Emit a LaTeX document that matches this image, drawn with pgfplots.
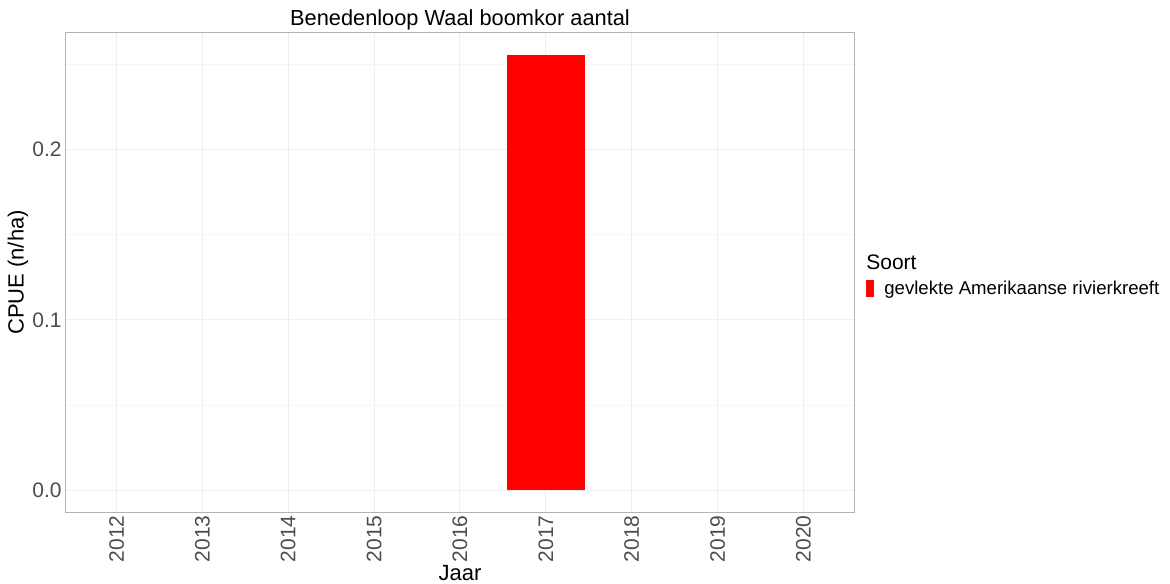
\documentclass[border=0pt]{standalone}
\usepackage{pgfplots}
\pgfplotsset{compat=1.18}
\usepackage{fontspec}
\setmainfont{Liberation Sans}
\definecolor{gridc}{HTML}{EFEFEF}
\definecolor{gridm}{HTML}{F6F6F6}
\definecolor{borderc}{HTML}{B3B3B3}
\definecolor{tickc}{HTML}{4D4D4D}
\begin{document}
\begin{tikzpicture}
\path[use as bounding box] (0,0) rectangle (585pt,291.5pt);
\begin{axis}[
  at={(32.5pt,35.5pt)}, anchor=south west,
  scale only axis, width=395pt, height=239.5pt,
  xmin=-0.6, xmax=8.6,
  ymin=-0.0128, ymax=0.2683,
  xtick={0,1,2,3,4,5,6,7,8},
  xticklabels={2012,2013,2014,2015,2016,2017,2018,2019,2020},
  ytick={0,0.1,0.2},
  yticklabels={0.0,0.1,0.2},
  minor ytick={0.05,0.15,0.25},
  major tick length=0pt, minor tick length=0pt,
  grid=both,
  major grid style={draw=gridc, line width=0.5pt},
  minor grid style={draw=gridm, line width=0.3pt},
  axis line style={draw=borderc, line width=0.5pt},
  /pgf/number format/assume math mode=true,
  xticklabel style={rotate=90, anchor=east, font=\fontsize{10.5}{12}\selectfont, text=tickc, inner sep=1.5pt},
  yticklabel style={anchor=east, font=\fontsize{10.5}{12}\selectfont, text=tickc, inner sep=1.5pt},
  title={Benedenloop Waal boomkor aantal},
  title style={at={(axis description cs:0.5,1)}, anchor=south, yshift=-6.5pt, font=\fontsize{10.9}{13}\selectfont, inner sep=2pt},
  xlabel={Jaar},
  xlabel style={at={(axis description cs:0.5,-0.110)}, anchor=north, font=\fontsize{11}{13}\selectfont, inner sep=0pt},
  ylabel={CPUE (n/ha)},
  ylabel style={at={(axis description cs:-0.0595,0.5)}, anchor=center, font=\fontsize{11}{13}\selectfont, inner sep=0pt},
  legend style={draw=none, fill=none, at={(axis description cs:1.0139,0.4656)}, anchor=west, inner sep=0pt, font=\fontsize{9.3}{11}\selectfont, legend cell align=left, /tikz/every odd column/.append style={column sep=3pt}},
  legend image code/.code={\fill[red] (0pt,-4.25pt) rectangle (4pt,4.25pt);},
  clip=false,
]
\addplot[ybar, fill=red, draw=none, bar width=0.9] coordinates {
(5,0.2555)
};
\addlegendentry{gevlekte Amerikaanse rivierkreeft}
\node[anchor=west, inner sep=0pt, font=\fontsize{10.5}{12}\selectfont] at (axis description cs:1.0139,0.522) {Soort};
\end{axis}
\end{tikzpicture}
\end{document}
